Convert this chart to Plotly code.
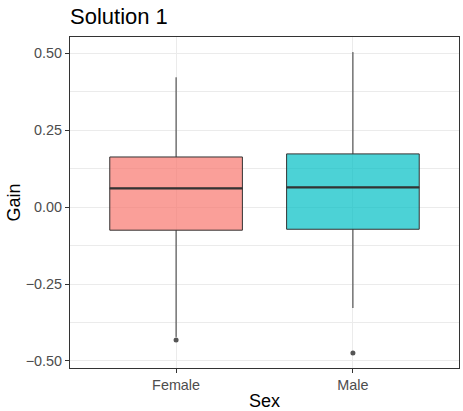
import plotly.graph_objects as go

categories = ["Female", "Male"]
positions = [1, 2]
q1 = [-0.075, -0.072]
median = [0.061, 0.064]
q3 = [0.163, 0.173]
lower_whisker = [-0.422, -0.328]
upper_whisker = [0.422, 0.504]
outliers = [[-0.432], [-0.474]]
fills = ["rgba(248,118,109,0.7)", "rgba(0,191,196,0.7)"]
box_width = 0.75

W, H = 463, 411
L, R, T, B = 70, 4, 37, 43
PW, PH = W - L - R, H - T - B

fig = go.Figure()
for i, cat in enumerate(categories):
    fig.add_trace(go.Box(
        x=[positions[i]], q1=[q1[i]], median=[median[i]], q3=[q3[i]],
        lowerfence=[lower_whisker[i]], upperfence=[upper_whisker[i]],
        width=box_width, fillcolor=fills[i],
        line=dict(color="#333333", width=1), whiskerwidth=0,
        boxpoints=False, name=cat, showlegend=False, hoverinfo="skip",
    ))
    fig.add_trace(go.Scatter(
        x=[positions[i] - box_width / 2, positions[i] + box_width / 2],
        y=[median[i], median[i]], mode="lines",
        line=dict(color="#333333", width=2.2), showlegend=False, hoverinfo="skip",
    ))
    fig.add_trace(go.Scatter(
        x=[positions[i]] * len(outliers[i]), y=outliers[i], mode="markers",
        marker=dict(color="#555555", size=5), showlegend=False, hoverinfo="skip",
    ))

fig.update_layout(
    width=W, height=H,
    margin=dict(l=L, r=R, t=T, b=B, autoexpand=False),
    paper_bgcolor="white", plot_bgcolor="white",
    font=dict(family="Liberation Sans, Arial, sans-serif", color="#000000"),
    title=dict(text="Solution 1", x=0, xanchor="left", xref="paper",
               y=1 - 16 / H, yanchor="middle", yref="container",
               font=dict(size=22, color="#000000")),
    boxmode="overlay",
    annotations=[
        dict(text="Sex", xref="paper", yref="paper", x=0.5,
             y=(T + PH - 401) / PH, showarrow=False,
             xanchor="center", yanchor="middle",
             font=dict(size=18, color="#000000")),
        dict(text="Gain", xref="paper", yref="paper", x=(13 - L) / PW,
             y=0.5, showarrow=False, textangle=-90,
             xanchor="center", yanchor="middle",
             font=dict(size=18, color="#000000")),
    ],
)
fig.update_xaxes(
    range=[0.4, 2.6], tickvals=positions, ticktext=categories,
    showgrid=True, gridcolor="#EBEBEB", gridwidth=1.1,
    ticks="outside", ticklen=4, tickcolor="#333333", tickwidth=1,
    tickfont=dict(size=14.4, color="#4D4D4D"),
    showline=True, linecolor="#333333", linewidth=1, mirror=True,
    zeroline=False, automargin=False,
)
fig.update_yaxes(
    range=[-0.523, 0.553], tickvals=[-0.5, -0.25, 0, 0.25, 0.5],
    ticktext=["\u22120.50", "\u22120.25", "0.00", "0.25", "0.50"],
    showgrid=True, gridcolor="#EBEBEB", gridwidth=1.1,
    minor=dict(tickvals=[-0.375, -0.125, 0.125, 0.375], showgrid=True,
               gridcolor="#EBEBEB", gridwidth=0.6, ticks=""),
    ticks="outside", ticklen=4, tickcolor="#333333", tickwidth=1,
    tickfont=dict(size=14.4, color="#4D4D4D"),
    showline=True, linecolor="#333333", linewidth=1, mirror=True,
    zeroline=False, automargin=False,
)

fig.write_html("out.html", config={"displayModeBar": False},
               post_script="document.body.style.margin='0';")
